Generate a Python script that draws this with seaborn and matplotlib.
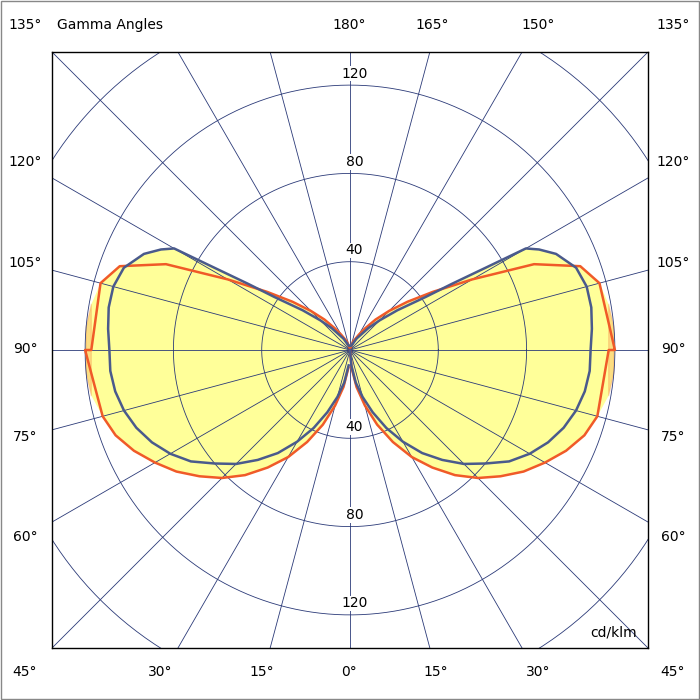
import numpy as np
import pandas as pd
import matplotlib.pyplot as plt
import seaborn as sns

# Data (gamma angle in degrees, intensity in cd/klm)
gamma_red = [0, 5, 10, 15, 20, 25, 30, 35, 40, 45, 50, 55, 60, 65, 70, 75, 80, 85, 90,
             95, 100, 105, 110, 115, 120, 125, 130, 135, 140, 145, 150, 160, 170, 180]
cd_red = [0, 8, 17, 26, 36, 46, 56, 65, 74, 82, 89, 96, 102, 108, 113, 116, 119, 120, 120,
          120, 119, 117, 111, 92, 64, 46, 34, 25, 18, 12, 8, 4, 1, 0]
gamma_blue = [0, 5, 10, 15, 20, 25, 30, 35, 40, 45, 50, 55, 60, 65, 70, 75, 80, 85, 90,
              95, 100, 105, 110, 115, 118, 120, 121, 123, 125, 130, 135, 140, 150, 165, 180]
cd_blue = [0, 7, 15, 22, 30, 39, 48, 57, 65, 73, 80, 88, 94, 99, 103, 106, 108, 109, 109,
           110, 111, 111, 109, 103, 97, 92, 75, 55, 42, 28, 19, 13, 6, 2, 0]
ring_values = [40, 80, 120]
left_labels = ['135°', '120°', '105°', '90°', '75°', '60°', '45°']
top_labels = ['180°', '165°', '150°']
bottom_labels = ['0°', '15°', '30°']

LIM = 135
fig = plt.figure(figsize=(7, 7), dpi=100)
ax = fig.add_axes([52 / 700, 52 / 700, 596 / 700, 596 / 700])
ax.set_xlim(-LIM, LIM)
ax.set_ylim(-LIM, LIM)
ax.set_aspect('equal')
ax.set_xticks([])
ax.set_yticks([])
for s in ax.spines.values():
    s.set_color('black')
    s.set_linewidth(1)

def curve(g, r):
    g = np.radians(np.array(g, dtype=float))
    r = np.array(r, dtype=float)
    # right half then mirrored left half
    x = np.concatenate([r * np.sin(g), (-r * np.sin(g))[::-1]])
    y = np.concatenate([-r * np.cos(g), (-r * np.cos(g))[::-1]])
    return x, y

yellow = '#ffff99'
rx, ry = curve(gamma_red, cd_red)
bx, by = curve(gamma_blue, cd_blue)
ax.fill(rx, ry, color=yellow, zorder=1, lw=0)
ax.fill(bx, by, color=yellow, zorder=1, lw=0)

grid = '#2b3a78'
for v in ring_values + [160]:
    t = np.linspace(0, 2 * np.pi, 400)
    ax.plot(v * np.cos(t), v * np.sin(t), color=grid, lw=0.6, zorder=2)
for a in range(0, 360, 15):
    t = np.radians(a)
    ax.plot([0, 300 * np.sin(t)], [0, -300 * np.cos(t)], color=grid, lw=0.6, zorder=2)

df_r = pd.DataFrame({'x': rx, 'y': ry})
df_b = pd.DataFrame({'x': bx, 'y': by})
sns.lineplot(data=df_r, x='x', y='y', sort=False, color='#f05a28', lw=1.8, ax=ax, zorder=3)
sns.lineplot(data=df_b, x='x', y='y', sort=False, color='#4a5a8c', lw=1.8, ax=ax, zorder=4)
ax.set_xlabel('')
ax.set_ylabel('')

for v in ring_values:
    for yy in (v, -v):
        ax.text(2, yy + 2, str(v), ha='center', va='bottom', fontsize=10, zorder=5,
                bbox=dict(facecolor='white', edgecolor='none', pad=0.5))
ax.text(130, -128, 'cd/klm', ha='right', va='center', fontsize=10)

def ftext(x, y, s, **kw):
    fig.text(x / 700, 1 - y / 700, s, ha='center', va='center', fontsize=10, **kw)

left_y = [25, 162, 263, 349, 437, 537, 672]
for lab, y in zip(left_labels, left_y):
    ftext(25, y, lab)
    ftext(673, y, lab)
ftext(110, 25, 'Gamma Angles')
for lab, x in zip(top_labels, [349, 432, 538]):
    ftext(x, 25, lab)
for lab, x in zip(bottom_labels, [349, 262, 160]):
    ftext(x, 672, lab)
for lab, x in zip(bottom_labels[1:], [436, 538]):
    ftext(x, 672, lab)

fig.patches.append(plt.Rectangle((0.001, 0.001), 0.998, 0.998, transform=fig.transFigure,
                                 fill=False, edgecolor='#888888', lw=1))
fig.savefig('out.png', dpi=100)
